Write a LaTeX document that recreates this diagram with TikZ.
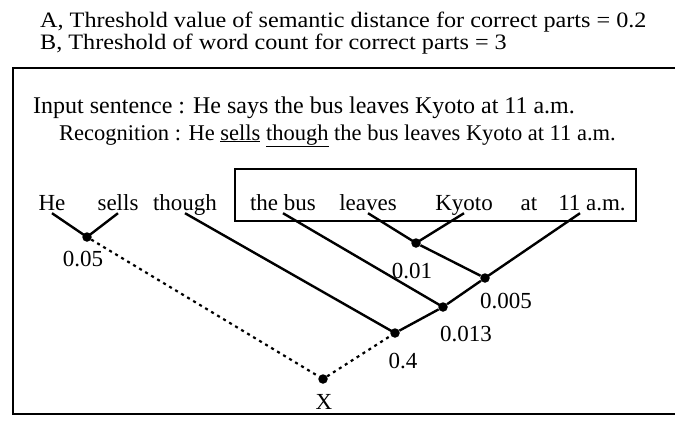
\documentclass[tikz,border=0pt]{standalone}
\usepackage{fontspec}
\setmainfont{Liberation Serif}
\newfontfamily\widefont[FakeStretch=1.1]{Liberation Serif}
\usetikzlibrary{positioning, calc}

\begin{document}
\begin{tikzpicture}[
    x=1pt, y=-1pt,
    every node/.style={font=\fontsize{23}{27}\selectfont},
    line/.style={anchor=base west, inner sep=0pt},
    head/.style={line, font=\widefont\fontsize{22}{26}\selectfont},
    word/.style={inner sep=3pt, text depth=0pt, anchor=base},
    val/.style={inner sep=0pt},
    junc/.style={circle, fill=black, inner sep=0pt, minimum size=9.5pt},
    link/.style={line width=2.4pt},
    gap/.style={line width=2.2pt, dash pattern=on 3pt off 4pt},
    frame/.style={line width=2pt}
]
    \useasboundingbox (0,0) rectangle (675,421);

    \node[head] (ta) at (40,27) {A, Threshold value of semantic distance for correct parts = 0.2};
    \node[head] (tb) at (40,49) {B, Threshold of word count for correct parts = 3};

    \draw[frame] (675,68) -- (13,68) -- (13,414) -- (675,414);

    \node[line, font=\fontsize{24}{28}\selectfont] (inp) at (33,113) {Input sentence : He says the bus leaves Kyoto at 11 a.m.};
    \node[line, font=\fontsize{22.5}{27}\selectfont] (rec) at (59,140) {Recognition : He \underline{sells} \underline{though} the bus leaves Kyoto at 11 a.m.};

    \node[word] (he) at (52,210) {He};
    \node[word] (sells) at (118,210) {sells};
    \node[word] (though) at (185,210) {though};
    \node[word] (thebus) at (283,210) {the bus};
    \node[word] (leaves) at (368,210) {leaves};
    \node[word] (kyoto) at (464,210) {Kyoto};
    \node[word] (at) at (529,210) {at};
    \node[word] (elev) at (592,210) {11 a.m.};

    \draw[frame] (235,169) rectangle (636,221);

    \node[junc] (na) at (87,237) {};
    \node[junc] (ne) at (416,243) {};
    \node[junc] (nf) at (485,278) {};
    \node[junc] (nc) at (443,307) {};
    \node[junc] (nd) at (395,333) {};
    \node[junc] (nx) at (323,379) {};

    \node[val, below=9pt of na, xshift=-4pt] (la) {0.05};
    \node[val, below=15pt of ne, xshift=-4pt] (le) {0.01};
    \node[val, below=10pt of nf, xshift=21pt] (lf) {0.005};
    \node[val, below=14pt of nc, xshift=23pt] (lc) {0.013};
    \node[val, below=15pt of nd, xshift=8pt] (ld) {0.4};
    \node[val, below=10pt of nx, xshift=1pt] (lx) {X};

    \draw[link] (he.south) -- (na.center);
    \draw[link] (sells.south) -- (na.center);
    \draw[link] (though.south) -- (nd.center);
    \draw[link] (thebus.south) -- (nc.center);
    \draw[link] (leaves.south) -- (ne.center);
    \draw[link] (kyoto.south) -- (ne.center);
    \draw[link] (ne) -- (nf);
    \draw[link] ($(elev.south)+(-12,0)$) -- (nf.center);
    \draw[link] (nf) -- (nc) -- (nd);
    \draw[gap] (na) -- (nx) -- (nd);
\end{tikzpicture}
\end{document}
